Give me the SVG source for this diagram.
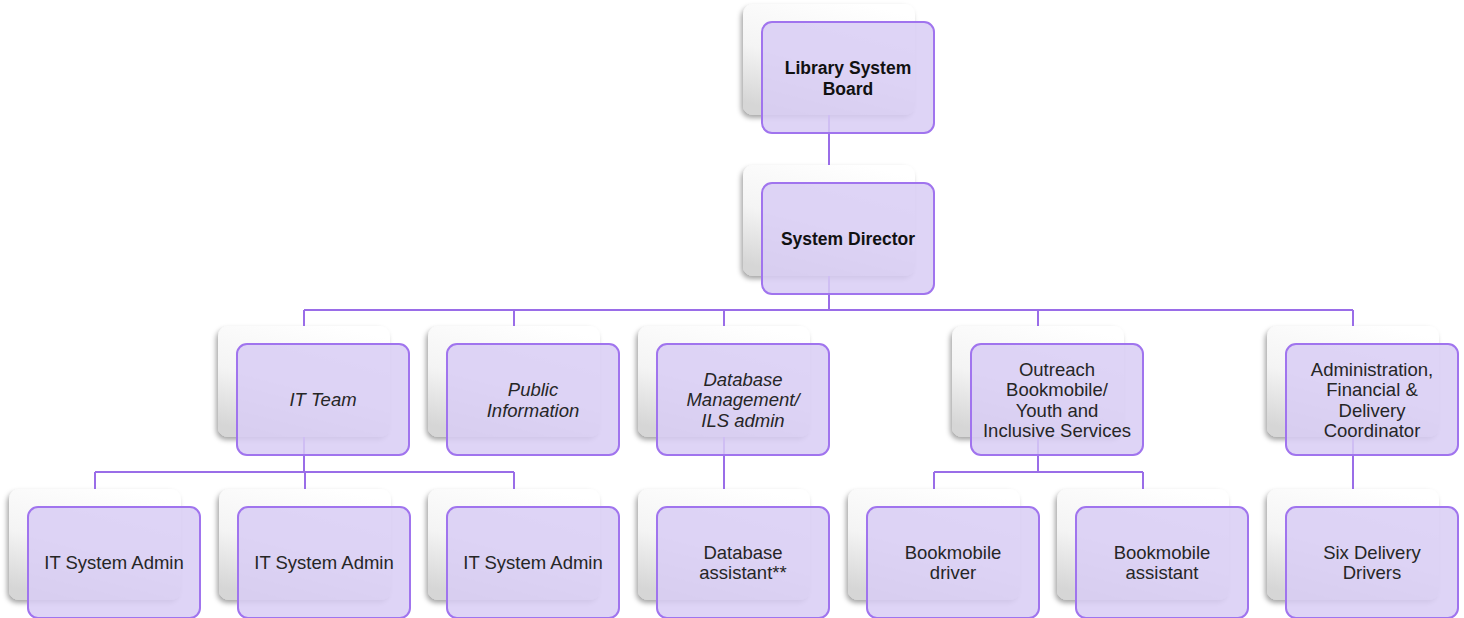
<svg xmlns="http://www.w3.org/2000/svg" width="1464" height="618" viewBox="0 0 1464 618">
<defs>
<linearGradient id="bg" x1="0.7" y1="0" x2="0.3" y2="1">
<stop offset="0" stop-color="#ffffff"/>
<stop offset="0.55" stop-color="#f4f4f4"/>
<stop offset="1" stop-color="#d6d6d6"/>
</linearGradient>
<filter id="sh" x="-20%" y="-20%" width="140%" height="150%">
<feDropShadow dx="-2" dy="3" stdDeviation="2.5" flood-color="#000" flood-opacity="0.35"/>
</filter>
<style>
.back{fill:url(#bg);filter:url(#sh)}
.card{fill:#d8ccf5;fill-opacity:0.85;stroke:#a074ee;stroke-width:2}
.ln{fill:none;stroke:#9a6de8;stroke-width:2}
text{font-family:"Liberation Sans",Arial,sans-serif;font-size:18.5px;fill:#262626;text-anchor:middle}
.b{font-weight:bold;font-size:17.5px;fill:#111}
.i{font-style:italic}
</style>
</defs>
<rect width="1464" height="618" fill="#ffffff"/>
<g id="backs">
<rect class="back" x="743" y="4" width="172" height="111" rx="10"/>
<rect class="back" x="743" y="165" width="172" height="111" rx="10"/>
<rect class="back" x="218" y="326" width="172" height="111" rx="10"/>
<rect class="back" x="428" y="326" width="172" height="111" rx="10"/>
<rect class="back" x="638" y="326" width="172" height="111" rx="10"/>
<rect class="back" x="952" y="326" width="172" height="111" rx="10"/>
<rect class="back" x="1267" y="326" width="172" height="111" rx="10"/>
<rect class="back" x="9" y="489" width="172" height="111" rx="10"/>
<rect class="back" x="219" y="489" width="172" height="111" rx="10"/>
<rect class="back" x="428" y="489" width="172" height="111" rx="10"/>
<rect class="back" x="638" y="489" width="172" height="111" rx="10"/>
<rect class="back" x="848" y="489" width="172" height="111" rx="10"/>
<rect class="back" x="1057" y="489" width="172" height="111" rx="10"/>
<rect class="back" x="1267" y="489" width="172" height="111" rx="10"/>
</g>
<g id="connectors">
<path class="ln" d="M829 115V165"/>
<path class="ln" d="M829 276V310M304 310H1353M304 310V326M514 310V326M724 310V326M1038 310V326M1353 310V326"/>
<path class="ln" d="M304 437V472M95 472H514M95 472V489M305 472V489M514 472V489"/>
<path class="ln" d="M724 437V489"/>
<path class="ln" d="M1038 437V472M934 472H1143M934 472V489M1143 472V489"/>
<path class="ln" d="M1353 437V489"/>
</g>
<g id="board"><rect class="card" x="762" y="22" width="172" height="111" rx="10"/><text class="b" x="848" y="74">Library System<tspan x="848" dy="20.5">Board</tspan></text></g>
<g id="director"><rect class="card" x="762" y="183" width="172" height="111" rx="10"/><text class="b" x="848" y="245">System Director</text></g>
<g id="it-team"><rect class="card" x="237" y="344" width="172" height="111" rx="10"/><text class="i" x="323" y="406">IT Team</text></g>
<g id="public-info"><rect class="card" x="447" y="344" width="172" height="111" rx="10"/><text class="i" x="533" y="396">Public<tspan x="533" dy="20.5">Information</tspan></text></g>
<g id="database-mgmt"><rect class="card" x="657" y="344" width="172" height="111" rx="10"/><text class="i" x="743" y="385.5">Database<tspan x="743" dy="20.5">Management/</tspan><tspan x="743" dy="20.5">ILS admin</tspan></text></g>
<g id="outreach"><rect class="card" x="971" y="344" width="172" height="111" rx="10"/><text x="1057" y="375.5">Outreach<tspan x="1057" dy="20.5">Bookmobile/</tspan><tspan x="1057" dy="20.5">Youth and</tspan><tspan x="1057" dy="20.5">Inclusive Services</tspan></text></g>
<g id="admin"><rect class="card" x="1286" y="344" width="172" height="111" rx="10"/><text x="1372" y="375.5">Administration,<tspan x="1372" dy="20.5">Financial &amp;</tspan><tspan x="1372" dy="20.5">Delivery</tspan><tspan x="1372" dy="20.5">Coordinator</tspan></text></g>
<g id="it-admin-1"><rect class="card" x="28" y="507" width="172" height="111" rx="10"/><text x="114" y="569">IT System Admin</text></g>
<g id="it-admin-2"><rect class="card" x="238" y="507" width="172" height="111" rx="10"/><text x="324" y="569">IT System Admin</text></g>
<g id="it-admin-3"><rect class="card" x="447" y="507" width="172" height="111" rx="10"/><text x="533" y="569">IT System Admin</text></g>
<g id="db-assistant"><rect class="card" x="657" y="507" width="172" height="111" rx="10"/><text x="743" y="558.5">Database<tspan x="743" dy="20.5">assistant**</tspan></text></g>
<g id="bm-driver"><rect class="card" x="867" y="507" width="172" height="111" rx="10"/><text x="953" y="558.5">Bookmobile<tspan x="953" dy="20.5">driver</tspan></text></g>
<g id="bm-assistant"><rect class="card" x="1076" y="507" width="172" height="111" rx="10"/><text x="1162" y="558.5">Bookmobile<tspan x="1162" dy="20.5">assistant</tspan></text></g>
<g id="delivery-drivers"><rect class="card" x="1286" y="507" width="172" height="111" rx="10"/><text x="1372" y="558.5">Six Delivery<tspan x="1372" dy="20.5">Drivers</tspan></text></g>
</svg>
